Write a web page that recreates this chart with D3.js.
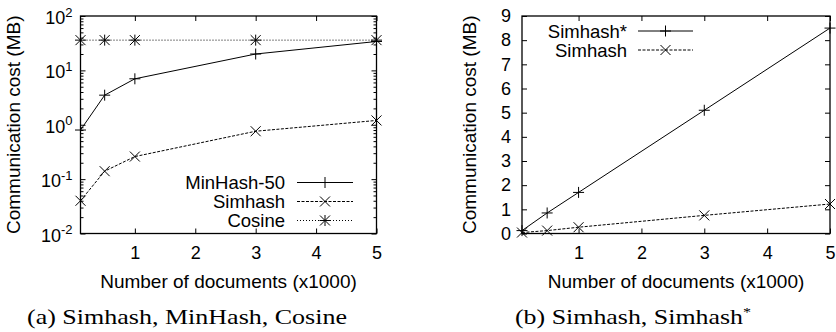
<!DOCTYPE html>
<meta charset="utf-8">
<script src="https://d3js.org/d3.v7.min.js"></script>
<style>
  body { margin: 0; background: #fff; }
  svg text { font-family: "Liberation Sans", Arial, sans-serif; fill: #000; }
  svg text.caption { font-family: "Liberation Serif", "Times New Roman", serif; }
</style>
<div id="chart"></div>
<script>
// x values: number of documents (x1000)
const docs = [0.1, 0.5, 1, 3, 5];
const xTicks = [1, 2, 3, 4, 5];

// panel (a): log scale
const seriesNamesA = ["MinHash-50", "Simhash", "Cosine"];
const minhash50 = [0.8, 3.5, 7, 20, 34];
const simhash = [0.04, 0.14, 0.26, 0.76, 1.2];
const cosine = [36, 36, 36, 36, 36];
const logTicks = [0.01, 0.1, 1, 10, 100];
const logExponents = ["-2", "-1", "0", "1", "2"];

// panel (b): linear scale
const seriesNamesB = ["Simhash*", "Simhash"];
const simhashStar = [0.12, 0.85, 1.7, 5.1, 8.5];
const simhashB = [0.04, 0.12, 0.26, 0.75, 1.22];
const linTicks = [0, 1, 2, 3, 4, 5, 6, 7, 8, 9];

const yTitle = "Communication cost (MB)";
const xTitle = "Number of documents (x1000)";
const captions = ["(a) Simhash, MinHash, Cosine", "(b) Simhash, Simhash"];

const width = 836, height = 332;

const svg = d3.select("#chart")
    .append("svg")
    .attr("width", width)
    .attr("height", height);

// marker shapes, gnuplot style
const markers = {
    plus: "M-5.5,0H5.5M0,-5.5V5.5",
    cross: "M-5,-5L5,5M-5,5L5,-5",
    star: "M-5.5,0H5.5M0,-5.5V5.5M-5,-5L5,5M-5,5L5,-5"
};
const dashes = { solid: null, dashed: "3,1.5", dotted: "1,2" };

function drawPanel(p) {
    const g = svg.append("g");
    const x = d3.scaleLinear().domain([0.1, 5]).range([p.left, p.right]);
    const y = p.y;

    // ticks on all four sides, pointing inward
    const styleAxis = sel => {
        sel.select(".domain").remove();
        sel.attr("font-size", null).attr("font-family", null);
        sel.selectAll("line").attr("stroke", "#000").attr("stroke-width", 1);
    };

    g.append("g")
        .attr("transform", `translate(0,${p.bottom})`)
        .call(d3.axisBottom(x).tickValues(xTicks).tickFormat(d3.format("d"))
            .tickSizeInner(-5).tickSizeOuter(0).tickPadding(13))
        .call(styleAxis)
        .selectAll("text").attr("font-size", 18);
    g.append("g")
        .attr("transform", `translate(0,${p.top})`)
        .call(d3.axisTop(x).tickValues(xTicks).tickSizeInner(-5).tickSizeOuter(0).tickFormat(""))
        .call(styleAxis);

    const left = g.append("g")
        .attr("transform", `translate(${p.left},0)`)
        .call(d3.axisLeft(y).tickValues(p.yTicks).tickFormat(d3.format("d"))
            .tickSizeInner(-5).tickSizeOuter(0).tickPadding(p.yPad))
        .call(styleAxis);
    left.selectAll("text").attr("font-size", 18);
    g.append("g")
        .attr("transform", `translate(${p.right},0)`)
        .call(d3.axisRight(y).tickValues(p.yTicks).tickSizeInner(-5).tickSizeOuter(0).tickFormat(""))
        .call(styleAxis);

    if (p.log) {
        // 10^n labels with superscripts
        left.selectAll(".tick text")
            .attr("dy", "0.42em")
            .text("10")
            .append("tspan")
            .attr("dy", -7.5)
            .attr("font-size", 13)
            .text((d, i) => logExponents[i]);

        const minor = [];
        logTicks.slice(0, -1).forEach(d => { for (let k = 2; k < 10; k++) minor.push(d * k); });
        g.append("g")
            .attr("transform", `translate(${p.left},0)`)
            .call(d3.axisLeft(y).tickValues(minor).tickSizeInner(-3).tickSizeOuter(0).tickFormat(""))
            .call(styleAxis);
        g.append("g")
            .attr("transform", `translate(${p.right},0)`)
            .call(d3.axisRight(y).tickValues(minor).tickSizeInner(-3).tickSizeOuter(0).tickFormat(""))
            .call(styleAxis);
    }

    // frame
    g.append("rect")
        .attr("x", p.left).attr("y", p.top)
        .attr("width", p.right - p.left).attr("height", p.bottom - p.top)
        .attr("fill", "none").attr("stroke", "#000").attr("stroke-width", 1.3);

    // series
    const line = d3.line().x((d, i) => x(docs[i])).y(d => y(d));
    p.series.forEach(s => {
        g.append("path")
            .datum(s.values)
            .attr("d", line)
            .attr("fill", "none")
            .attr("stroke", "#000")
            .attr("stroke-width", 1)
            .attr("stroke-dasharray", dashes[s.dash]);
        g.append("g")
            .selectAll("path")
            .data(s.values)
            .join("path")
            .attr("transform", (d, i) => `translate(${x(docs[i])},${y(d)})`)
            .attr("d", markers[s.marker])
            .attr("fill", "none")
            .attr("stroke", "#000")
            .attr("stroke-width", 1);
    });

    // legend
    const leg = g.append("g");
    p.series.forEach((s, i) => {
        const ly = p.legend.y + i * p.legend.step;
        leg.append("text")
            .attr("x", p.legend.textX).attr("y", ly)
            .attr("dy", "0.36em")
            .attr("text-anchor", "end")
            .attr("font-size", 18.5)
            .text(s.name);
        leg.append("line")
            .attr("x1", p.legend.x1).attr("x2", p.legend.x2)
            .attr("y1", ly).attr("y2", ly)
            .attr("stroke", "#000").attr("stroke-width", 1)
            .attr("stroke-dasharray", dashes[s.dash]);
        leg.append("path")
            .attr("transform", `translate(${(p.legend.x1 + p.legend.x2) / 2},${ly})`)
            .attr("d", markers[s.marker])
            .attr("fill", "none").attr("stroke", "#000").attr("stroke-width", 1);
    });

    // titles
    g.append("text")
        .attr("transform", `translate(${p.yTitleX},${(p.top + p.bottom) / 2}) rotate(-90)`)
        .attr("text-anchor", "middle")
        .attr("font-size", 19)
        .text(yTitle);
    g.append("text")
        .attr("x", (p.left + p.right) / 2).attr("y", 288)
        .attr("text-anchor", "middle")
        .attr("font-size", 19)
        .text(xTitle);
    const cap = g.append("text")
        .attr("class", "caption")
        .attr("x", p.capX).attr("y", 324)
        .attr("font-size", 21)
        .attr("textLength", p.capW)
        .attr("lengthAdjust", "spacingAndGlyphs")
        .text(p.caption);
    if (p.capStar) {
        cap.append("tspan").attr("dy", -8).attr("font-size", 13).text("*");
    }
}

drawPanel({
    left: 80.5, right: 376.5, top: 16, bottom: 233.5,
    y: d3.scaleLog().domain([0.01, 100]).range([233.5, 16]),
    log: true, yTicks: logTicks, yPad: 8,
    series: [
        { name: seriesNamesA[0], values: minhash50, marker: "plus", dash: "solid" },
        { name: seriesNamesA[1], values: simhash, marker: "cross", dash: "dashed" },
        { name: seriesNamesA[2], values: cosine, marker: "star", dash: "dotted" }
    ],
    legend: { textX: 285, x1: 297, x2: 353, y: 182.5, step: 19 },
    yTitleX: 20,
    caption: captions[0], capX: 27, capW: 320
});

drawPanel({
    left: 522, right: 830, top: 16, bottom: 233.5,
    y: d3.scaleLinear().domain([0, 9]).range([233.5, 16]),
    log: false, yTicks: linTicks, yPad: 11,
    series: [
        { name: seriesNamesB[0], values: simhashStar, marker: "plus", dash: "solid" },
        { name: seriesNamesB[1], values: simhashB, marker: "cross", dash: "dashed" }
    ],
    legend: { textX: 627, x1: 638, x2: 693, y: 31, step: 19 },
    yTitleX: 476,
    caption: captions[1], capX: 515, capW: 236, capStar: true
});
</script>
</html>
